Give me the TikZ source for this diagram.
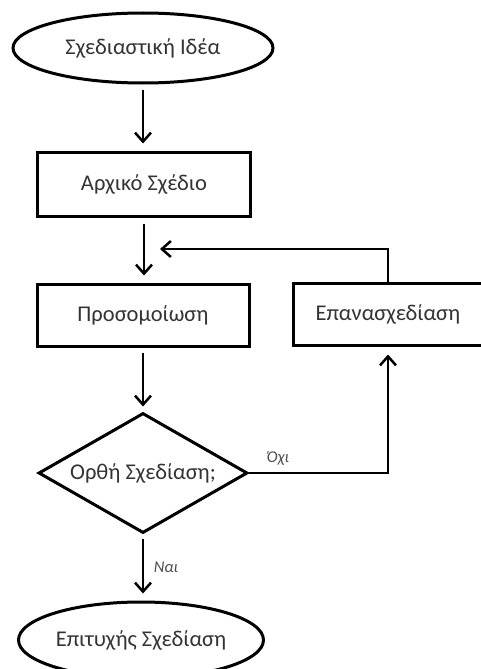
\documentclass[tikz,border=0pt]{standalone}
\usepackage{fontspec}
\setmainfont{Carlito}
\usetikzlibrary{shapes.geometric,arrows.meta}
\begin{document}
\begin{tikzpicture}[x=1pt,y=-1pt,
  every node/.style={font=\fontsize{22.5}{26}\selectfont, text=black!80},
  box/.style={draw=black, line width=3pt, rectangle, inner sep=0pt},
  oval/.style={draw=black, line width=3pt, ellipse, inner sep=0pt},
  dia/.style={draw=black, line width=3pt, diamond, inner sep=0pt, aspect=1.74},
  arr/.style={line width=2.5pt, -{Straight Barb[length=9pt,width=16pt,line width=2.5pt]}},
  lbl/.style={font=\fontsize{16.5}{19}\selectfont\itshape, text=black!70}]
\useasboundingbox (0,0) rectangle (481,669);
\clip (0,0) rectangle (481,669);
\node[oval, minimum width=260pt, minimum height=70pt] (start) at (143,48) {Σχεδιαστική Ιδέα};
\node[box, minimum width=213pt, minimum height=64pt] (init) at (144,184) {Αρχικό Σχέδιο};
\node[box, minimum width=212pt, minimum height=62pt] (sim) at (143,315) {Προσομοίωση};
\node[box, minimum width=190pt, minimum height=62pt] (redes) at (388,314) {Επανασχεδίαση};
\node[dia, minimum width=209pt, minimum height=120pt] (dec) at (143,473) {Ορθή Σχεδίαση;};
\node[oval, minimum width=245pt, minimum height=76pt] (end) at (141,640) {Επιτυχής Σχεδίαση};
\coordinate (merge) at (160,249);
\coordinate (corner) at (388,473);
\draw[arr, shorten <=5pt, shorten >=7pt] (start.south) -- (start.south |- init.north);
\draw[arr, shorten <=6pt, shorten >=7pt] (init.south) -- (init.south |- sim.north);
\draw[arr] (redes.north) |- (merge);
\draw[arr, shorten <=5pt, shorten >=5pt] (sim.south) -- (dec.north);
\draw[arr, shorten >=8pt] (dec.east) -- (corner) -- (redes.south);
\draw[arr, shorten <=4pt, shorten >=7pt] (dec.south) -- (dec.south |- end.north);
\node[lbl] (no) at (278,458) {Όχι};
\node[lbl] (yes) at (166,567) {Ναι};
\end{tikzpicture}
\end{document}
